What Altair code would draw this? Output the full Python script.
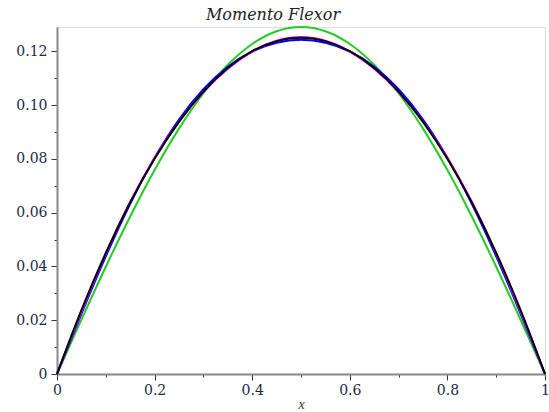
import altair as alt
import pandas as pd

# x positions (0 .. 1)
x_vals = [0.00, 0.05, 0.10, 0.15, 0.20, 0.25, 0.30, 0.35, 0.40, 0.45, 0.50,
          0.55, 0.60, 0.65, 0.70, 0.75, 0.80, 0.85, 0.90, 0.95, 1.00]

# green curve (one term)
green_vals = [0.0, 0.020181, 0.039866, 0.058569, 0.075831, 0.091224, 0.104371,
              0.114949, 0.122696, 0.127422, 0.12901, 0.127422, 0.122696,
              0.114949, 0.104371, 0.091224, 0.075831, 0.058569, 0.039866,
              0.020181, 0.0]
# blue curve (two terms)
blue_vals = [0.0, 0.022350, 0.043732, 0.063288, 0.080375, 0.094603, 0.105848,
             0.114202, 0.119887, 0.123165, 0.124232, 0.123165, 0.119887,
             0.114202, 0.105848, 0.094603, 0.080375, 0.063288, 0.043732,
             0.022350, 0.0]
# magenta curve (three terms)
magenta_vals = [0.0, 0.023080, 0.044764, 0.064018, 0.080375, 0.093873, 0.104816,
                0.113472, 0.119887, 0.123895, 0.125264, 0.123895, 0.119887,
                0.113472, 0.104816, 0.093873, 0.080375, 0.064018, 0.044764,
                0.023080, 0.0]
# black curve (exact)
black_vals = [0.0, 0.02375, 0.045, 0.06375, 0.08, 0.09375, 0.105, 0.11375,
              0.12, 0.12375, 0.125, 0.12375, 0.12, 0.11375, 0.105, 0.09375,
              0.08, 0.06375, 0.045, 0.02375, 0.0]

x_ticks = [0, 0.1, 0.2, 0.3, 0.4, 0.5, 0.6, 0.7, 0.8, 0.9, 1.0]
y_ticks = [0, 0.01, 0.02, 0.03, 0.04, 0.05, 0.06, 0.07, 0.08, 0.09, 0.10, 0.11, 0.12]

series = [("green", green_vals, "#22cc22"),
          ("blue", blue_vals, "#0000ff"),
          ("magenta", magenta_vals, "#ff00ff"),
          ("black", black_vals, "#000000")]

TITLE_FONT = "DejaVu Serif"
LABEL_FONT = "DejaVu Serif"

x_axis = alt.Axis(
    values=x_ticks,
    labelExpr="round(datum.value*10) % 2 == 1 ? '' : format(datum.value, '~g')",
    tickSize={"condition": {"test": "round(datum.value*10) % 2 == 1", "value": 3}, "value": 6},
    tickColor="#333333", tickWidth=1,
    domainColor="#888888", domainWidth=2,
    labelFont=LABEL_FONT, labelFontSize=14, labelColor="#1a2a44", labelPadding=3,
    labelFlush=False, labelOverlap=False,
    title="x", titleFont="Liberation Serif", titleFontStyle="italic", titleFontWeight="normal",
    titleFontSize=14, titleColor="#333333", titlePadding=0,
    grid=False,
)
y_axis = alt.Axis(
    values=y_ticks,
    labelExpr="round(datum.value*100) % 2 == 1 ? '' : (datum.value == 0 ? '0' : format(datum.value, '.2f'))",
    tickSize={"condition": {"test": "round(datum.value*100) % 2 == 1", "value": 3}, "value": 6},
    tickColor="#333333", tickWidth=1,
    domainColor="#888888", domainWidth=2,
    labelFont=LABEL_FONT, labelFontSize=14, labelColor="#1a2a44", labelPadding=4,
    labelFlush=False, labelOverlap=False,
    title=None, grid=False,
)

layers = []
for name, vals, col in series:
    df = pd.DataFrame({"x": x_vals, "y": vals})
    layers.append(
        alt.Chart(df).mark_line(color=col, strokeWidth=2, interpolate="monotone").encode(
            x=alt.X("x:Q", scale=alt.Scale(domain=[0, 1], nice=False, zero=False), axis=x_axis),
            y=alt.Y("y:Q", scale=alt.Scale(domain=[0, 0.129], nice=False), axis=y_axis),
        )
    )

chart = alt.layer(*layers).properties(
    width=488, height=347,
    autosize=alt.AutoSizeParams(type="none"),
    padding={"left": 57, "top": 27, "right": 4, "bottom": 38},
    title=alt.TitleParams(
        "Momento Flexor", font=TITLE_FONT, fontStyle="italic", fontWeight="normal",
        fontSize=16, color="#222222", anchor="middle", dx=-28, offset=0,
    ),
).configure_view(stroke=None).configure(background="white")

chart.save("out.html", embed_options={"renderer": "svg", "actions": False})
